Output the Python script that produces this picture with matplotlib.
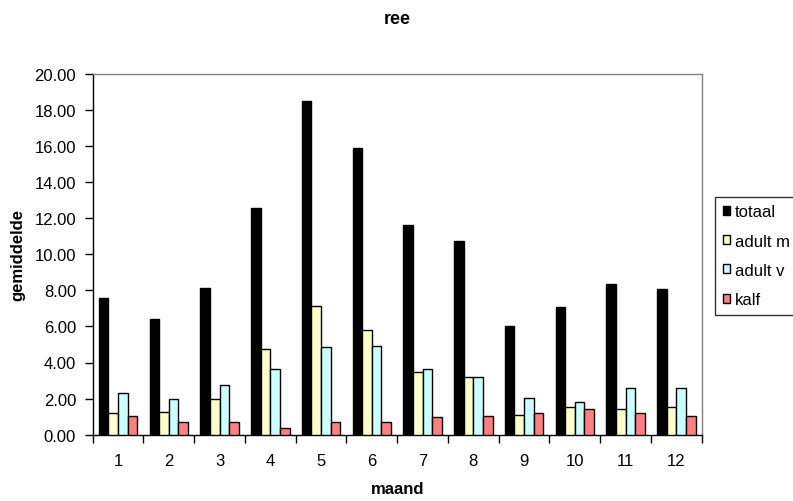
import matplotlib
matplotlib.use("Agg")
import matplotlib.pyplot as plt
import numpy as np

months = [1, 2, 3, 4, 5, 6, 7, 8, 9, 10, 11, 12]
series_names = ["totaal", "adult m", "adult v", "kalf"]
totaal = [7.59, 6.41, 8.13, 12.58, 18.49, 15.87, 11.63, 10.73, 6.04, 7.09, 8.35, 8.05]
adult_m = [1.19, 1.27, 2.00, 4.76, 7.15, 5.80, 3.49, 3.18, 1.11, 1.55, 1.42, 1.55]
adult_v = [2.31, 2.00, 2.75, 3.66, 4.84, 4.93, 3.64, 3.18, 2.02, 1.79, 2.60, 2.60]
kalf = [1.05, 0.69, 0.69, 0.37, 0.69, 0.69, 0.96, 1.05, 1.20, 1.42, 1.20, 1.05]
colors = ["#000000", "#FFFFCC", "#CCFFFF", "#FF8080"]
yticks = [0, 2, 4, 6, 8, 10, 12, 14, 16, 18, 20]

plt.rcParams['font.family'] = ['Liberation Sans', 'DejaVu Sans']

fig = plt.figure(figsize=(7.93, 5.02), dpi=100)
ax = fig.add_axes([92.7/793, 1-435.7/502, (701.7-92.7)/793, (435.7-74.7)/502])

x = np.array(months, dtype=float)
w = 0.19
data = [totaal, adult_m, adult_v, kalf]
handles = []
for i, (name, vals, c) in enumerate(zip(series_names, data, colors)):
    b = ax.bar(x + (i - 1.5) * w, vals, width=w, color=c, edgecolor="black",
               linewidth=1.0, label=name, zorder=3)
    handles.append(b)

ax.set_xlim(0.5, 12.5)
ax.set_ylim(0, 20)
ax.set_yticks(yticks)
ax.set_yticklabels([f"{v:.2f}" for v in yticks], fontsize=12)
ax.set_xticks(months)
ax.set_xticklabels([str(m) for m in months], fontsize=12)
ax.set_xticks(np.arange(0.5, 13.0, 1.0), minor=True)
ax.tick_params(axis='x', which='major', length=0, pad=13)
ax.tick_params(axis='x', which='minor', length=6, direction='out', width=1)
ax.tick_params(axis='y', length=6, direction='out', width=1, pad=6)

for s in ["top", "right"]:
    ax.spines[s].set_color("#808080")
    ax.spines[s].set_linewidth(1)
for s in ["left", "bottom"]:
    ax.spines[s].set_color("black")
    ax.spines[s].set_linewidth(1)

fig.text(0.5 * (92.7 + 701.7) / 793 + 0.0, 1 - 19 / 502, "ree", ha="center", va="center",
         fontsize=13, fontweight="bold")
fig.text(0.5 * (92.7 + 701.7) / 793, 1 - 490 / 502, "maand", ha="center", va="center",
         fontsize=12, fontweight="bold")
fig.text(18 / 793, 1 - 255 / 502, "gemiddelde", ha="center", va="center",
         rotation=90, fontsize=12, fontweight="bold")

leg = fig.legend(handles=handles, labels=series_names, loc="upper left",
                 bbox_to_anchor=(715 / 793, 1 - 198 / 502), fontsize=12,
                 frameon=True, fancybox=False, borderaxespad=0, borderpad=0.45,
                 handlelength=0.45, handleheight=0.45, handletextpad=0.3,
                 labelspacing=0.85)
leg.get_frame().set_edgecolor("black")
leg.get_frame().set_linewidth(1)

fig.savefig("out.png", dpi=100)
